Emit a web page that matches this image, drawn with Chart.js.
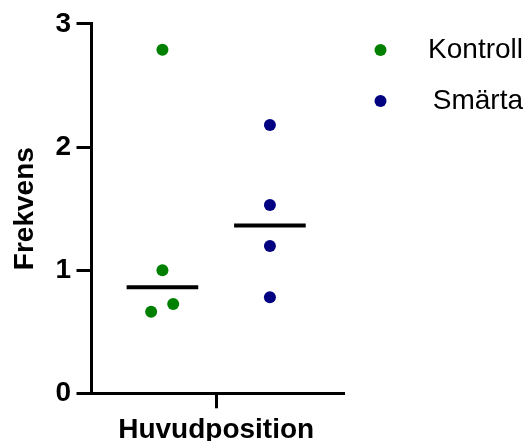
<!DOCTYPE html>
<html>
<head>
<meta charset="utf-8">
<script src="https://cdn.jsdelivr.net/npm/chart.js@4"></script>
<style>
html, body { margin: 0; padding: 0; background: #fff; }
canvas { display: block; }
</style>
</head>
<body>
<canvas id="chart" width="528" height="441"></canvas>
<script>
// Group label on the x axis and tick values on the y axis
const categories = ['Huvudposition'];
const yTicks = [0, 1, 2, 3];

// Series
const seriesNames = ['Kontroll', 'Smärta'];
const seriesColors = ['#008000', '#000080'];
const kontroll = [2.79, 1.00, 0.725, 0.663];
const smarta = [2.18, 1.53, 1.197, 0.78];

// Horizontal spread of the dots inside each column (x-scale units)
const kontrollJitter = [0, 0, 0.1, -0.105];
const smartaJitter = [0, 0, 0, 0];
const columnCenters = [-0.5, 0.5];
const medianHalfWidth = 1 / 3;

function median(values) {
  const s = values.slice().sort((a, b) => a - b);
  const m = Math.floor(s.length / 2);
  return s.length % 2 ? s[m] : (s[m - 1] + s[m]) / 2;
}

function points(values, jitter, center) {
  return values.map((v, i) => ({ x: center + jitter[i], y: v }));
}

function medianSegment(values, center) {
  const m = median(values);
  return [{ x: center - medianHalfWidth, y: m }, { x: center + medianHalfWidth, y: m }];
}

// Small round swatch for the legend, drawn left of the swatch box centre
function legendDot(color) {
  const c = document.createElement('canvas');
  c.width = 34; c.height = 14;
  const g = c.getContext('2d');
  g.fillStyle = color;
  g.beginPath();
  g.arc(7.5, 7, 6, 0, Math.PI * 2);
  g.fill();
  return c;
}

const FONT = "'Liberation Sans', Arial, Helvetica, sans-serif";
Chart.defaults.font.family = FONT;
Chart.defaults.color = '#000';

const seriesValues = [kontroll, smarta];
const seriesJitter = [kontrollJitter, smartaJitter];

const datasets = seriesNames.map((name, k) => ({
  type: 'scatter',
  label: name,
  data: points(seriesValues[k], seriesJitter[k], columnCenters[k]),
  backgroundColor: seriesColors[k],
  borderColor: seriesColors[k],
  pointRadius: 6,
  pointHoverRadius: 6,
  borderWidth: 0,
  order: 2
})).concat(seriesNames.map((name, k) => ({
  type: 'line',
  label: name + ' median',
  data: medianSegment(seriesValues[k], columnCenters[k]),
  borderColor: '#000',
  borderWidth: 4,
  borderCapStyle: 'butt',
  pointRadius: 0,
  fill: false,
  order: 1
})));

new Chart(document.getElementById('chart'), {
  type: 'scatter',
  data: { datasets },
  options: {
    responsive: false,
    animation: false,
    devicePixelRatio: 1,
    layout: { padding: { top: 13, right: 5, bottom: -10.7, left: 0 } },
    plugins: {
      tooltip: { enabled: false },
      legend: {
        position: 'right',
        align: 'start',
        maxWidth: 180,
        labels: {
          font: { size: 28, family: FONT },
          color: '#000',
          padding: 23,
          usePointStyle: true,
          pointStyleWidth: 48,
          textAlign: 'right',
          generateLabels(chart) {
            const items = Chart.defaults.plugins.legend.labels.generateLabels(chart);
            return items
              .filter(it => it.datasetIndex < seriesNames.length)
              .map(it => Object.assign(it, { pointStyle: legendDot(seriesColors[it.datasetIndex]) }));
          }
        }
      }
    },
    scales: {
      x: {
        type: 'linear',
        min: -1.16,
        max: 1.18,
        afterBuildTicks(scale) { scale.ticks = [{ value: 0 }]; },
        ticks: {
          callback: () => categories[0],
          font: { size: 28, weight: 'bold', lineHeight: 1.2 },
          color: '#000',
          padding: 4.9,
          maxRotation: 0,
          autoSkip: false
        },
        grid: {
          drawOnChartArea: false,
          drawTicks: true,
          tickLength: 15,
          lineWidth: 3,
          color: '#000'
        },
        border: { display: true, width: 3, color: '#000' }
      },
      y: {
        type: 'linear',
        min: 0,
        max: 3,
        afterBuildTicks(scale) { scale.ticks = yTicks.map(v => ({ value: v })); },
        ticks: {
          font: { size: 28, weight: 'bold', lineHeight: 1.3214 },
          color: '#000',
          padding: 5.5
        },
        grid: {
          drawOnChartArea: false,
          drawTicks: true,
          tickLength: 15,
          lineWidth: 3,
          color: '#000'
        },
        border: { display: true, width: 3, color: '#000' },
        title: {
          display: true,
          text: 'Frekvens',
          font: { size: 28, weight: 'bold', lineHeight: 1.2 },
          color: '#000',
          padding: { top: 8.2, bottom: 8.13 }
        }
      }
    }
  }
});
</script>
</body>
</html>
